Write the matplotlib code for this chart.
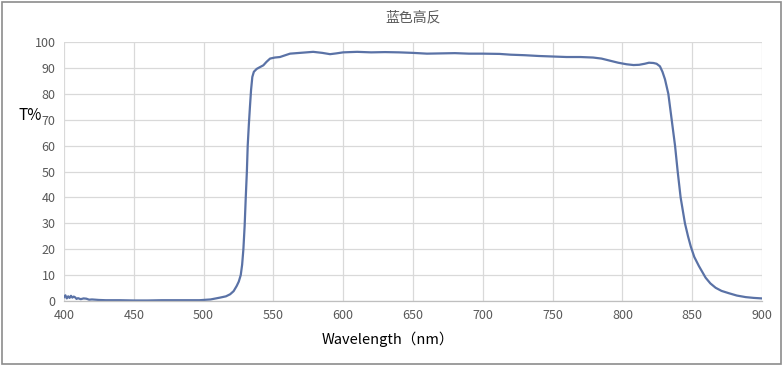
import matplotlib
matplotlib.use('Agg')
import matplotlib.pyplot as plt
from matplotlib.patches import Rectangle

plt.rcParams['font.family'] = ['Noto Sans CJK SC', 'DejaVu Sans']

# transmission curve
wavelength = [400, 401, 402, 403, 404, 405, 406, 407, 408, 409, 410, 412, 414, 416, 418, 420,
              425, 430, 440, 450, 460, 470, 480, 490, 497, 505, 511.7, 516, 519, 521.5, 523.7,
              525.2, 526.6, 527.6, 528.5, 529.4, 530.2, 531, 531.6, 532.4, 533.2, 534, 534.9, 536, 538,
              540, 542.8, 545, 547.6, 551, 554.7, 558, 561.9, 569, 578.5, 585, 590.6, 595, 600, 610, 620, 630,
              640, 650, 660, 670, 680, 690, 700, 712, 720, 730, 740, 750, 760, 770, 779, 785,
              791, 797, 803, 808, 812, 816, 819, 822.2, 824.5, 826.9, 828.7, 830.5, 832.9, 835.3,
              837.7, 839.6, 841.7, 844.8, 847, 849, 851.5, 854.8, 859.6, 863, 866.8, 871, 876.3, 882,
              888.3, 894, 899.8]
transmission = [1.5, 2.2, 1.0, 1.8, 1.2, 2.0, 1.3, 1.7, 1.4, 0.8, 1.1, 0.7, 1.0, 0.9, 0.5, 0.6,
                0.4, 0.3, 0.3, 0.2, 0.2, 0.3, 0.3, 0.3, 0.3, 0.6, 1.3, 1.8, 2.6, 3.8, 5.8,
                7.5, 10.0, 14.0, 20.0, 29.0, 40.0, 50.0, 60.0, 68.0, 75.0, 81.5, 86.5, 88.5, 89.6,
                90.2, 91.0, 92.3, 93.6, 94.0, 94.2, 94.8, 95.5, 95.8, 96.2, 95.8, 95.3, 95.6, 96.0, 96.2, 96.0, 96.1,
                96.0, 95.8, 95.5, 95.6, 95.7, 95.5, 95.5, 95.4, 95.1, 94.9, 94.6, 94.4, 94.2, 94.2, 94.0, 93.6,
                92.8, 92.0, 91.4, 91.1, 91.2, 91.6, 92.0, 91.9, 91.6, 90.6, 88.5, 85.6, 80.0, 70.0,
                60.0, 50.0, 40.0, 30.0, 25.0, 21.0, 17.0, 13.5, 9.0, 6.8, 5.1, 3.9, 3.0, 2.1,
                1.5, 1.2, 1.0]

x_ticks = [400, 450, 500, 550, 600, 650, 700, 750, 800, 850, 900]
y_ticks = [0, 10, 20, 30, 40, 50, 60, 70, 80, 90, 100]

fig = plt.figure(figsize=(7.83, 3.65), dpi=100)
ax = fig.add_axes([64 / 783, 1 - 301 / 365, 698 / 783, 259 / 365])

ax.plot(wavelength, transmission, color='#5a72a6', linewidth=1.6)

ax.set_xlim(400, 900)
ax.set_ylim(0, 100)
ax.set_xticks(x_ticks)
ax.set_yticks(y_ticks)
ax.grid(True, color='#d9d9d9', linewidth=0.9)
ax.set_axisbelow(True)
for side in ['left', 'right', 'top']:
    ax.spines[side].set_visible(False)
ax.spines['bottom'].set_color('#bfbfbf')
ax.spines['bottom'].set_linewidth(0.9)
ax.tick_params(length=0, labelsize=9, labelcolor='#595959', pad=6)

fig.text(413 / 783, 1 - 17 / 365, '蓝色高反', ha='center', va='center',
         fontsize=10, color='#595959')
fig.text(30 / 783, 1 - 116 / 365, 'T%', ha='center', va='center',
         fontsize=11, color='black')
fig.text(388 / 783, 1 - 339 / 365, 'Wavelength（nm）', ha='center', va='center',
         fontsize=10.5, color='black')

# light grey frame round the whole chart
fig.patches.append(Rectangle((0.002, 0.004), 0.995, 0.99, transform=fig.transFigure,
                             fill=False, edgecolor='#8c8c8c', linewidth=1.2))

fig.savefig('out.png', dpi=100)
